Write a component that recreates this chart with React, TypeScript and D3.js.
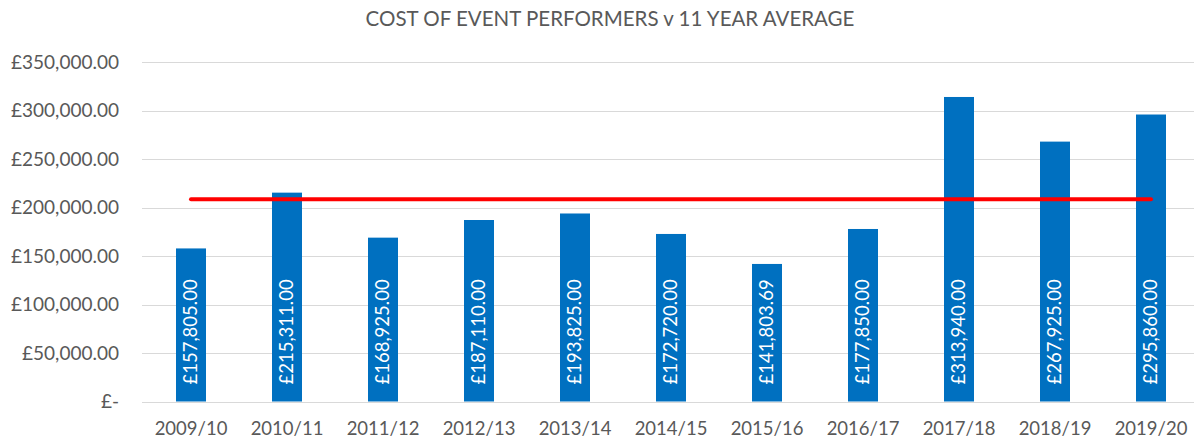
import React from "react";
import * as d3 from "d3";

const seasons = ["2009/10", "2010/11", "2011/12", "2012/13", "2013/14", "2014/15", "2015/16", "2016/17", "2017/18", "2018/19", "2019/20"];
const performerCosts = [157805, 215311, 168925, 187110, 193825, 172720, 141803.69, 177850, 313940, 267925, 295860];
const elevenYearAverage = 208461.34;
const yTicks = [0, 50000, 100000, 150000, 200000, 250000, 300000, 350000];

const W = 1194;
const H = 441;
const FONT = "Lato, 'Open Sans', sans-serif";

const money = (v: number) => (v === 0 ? "£-" : "£" + d3.format(",.2f")(v));

export default function App() {
  const x = d3.scaleBand<string>()
    .domain(seasons)
    .range([143, 1199])
    .paddingInner(0.6875)
    .paddingOuter(0.34375);
  const y = d3.scaleLinear().domain([0, 350000]).range([401.5, 62]);

  const avgLine = d3.line<string>()
    .x((d) => (x(d) as number) + x.bandwidth() / 2)
    .y(() => y(elevenYearAverage));
  const ends = [seasons[0], seasons[seasons.length - 1]];

  return (
    <svg width={W} height={H} style={{ position: "absolute", left: 0, top: 0, background: "#fff" }} fontFamily={FONT}>
      <text x={610} y={26} textAnchor="middle" fontSize={20.5} fill="#595959">
        COST OF EVENT PERFORMERS v 11 YEAR AVERAGE
      </text>

      {/* grid + y labels */}
      {yTicks.map((t) => (
        <g key={t}>
          <line x1={142} x2={W} y1={Math.round(y(t)) + 0.5} y2={Math.round(y(t)) + 0.5} stroke="#D9D9D9" strokeWidth={1.2} />
          <text x={119} y={y(t)} dy="0.35em" textAnchor="end" fontSize={19} fill="#595959">
            {money(t)}
          </text>
        </g>
      ))}

      {/* bars */}
      {seasons.map((s, i) => {
        const bx = x(s) as number;
        const cx = bx + x.bandwidth() / 2;
        return (
          <g key={s}>
            <rect x={bx} y={y(performerCosts[i])} width={x.bandwidth()} height={y(0) - y(performerCosts[i])} fill="#0070C0" />
            <text
              transform={`translate(${cx},${y(0) - 17}) rotate(-90)`}
              dy="0.35em"
              fontSize={18.5}
              fill="#fff"
            >
              {money(performerCosts[i])}
            </text>
            <text x={cx} y={435} textAnchor="middle" fontSize={18.5} fill="#595959">
              {s}
            </text>
          </g>
        );
      })}

      {/* average line */}
      <path d={avgLine(ends) ?? ""} stroke="#FF0000" strokeWidth={4} strokeLinecap="round" fill="none" />
    </svg>
  );
}
